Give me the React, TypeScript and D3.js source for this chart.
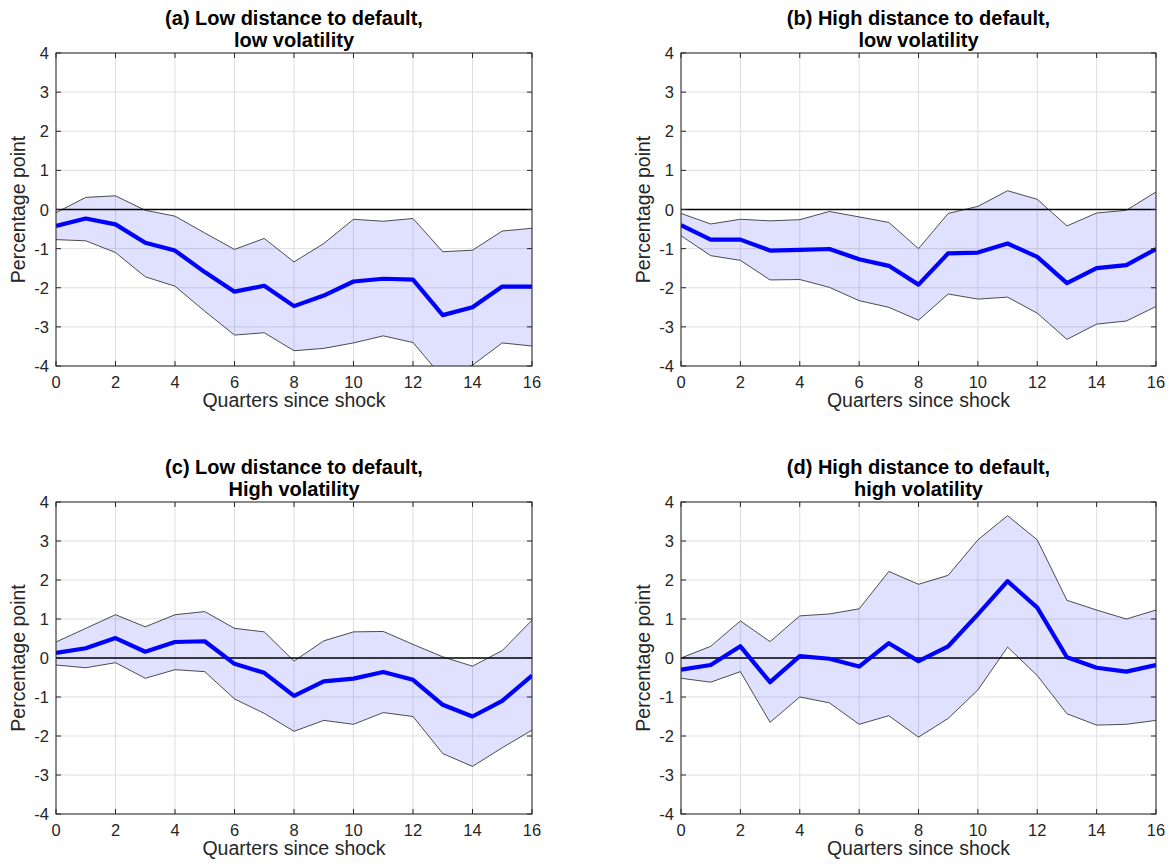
import React from "react";
import * as d3 from "d3";

// Horizon (quarters since shock) and axis ticks
const quarters = [0, 1, 2, 3, 4, 5, 6, 7, 8, 9, 10, 11, 12, 13, 14, 15, 16];
const xTicks = [0, 2, 4, 6, 8, 10, 12, 14, 16];
const yTicks = [-4, -3, -2, -1, 0, 1, 2, 3, 4];

// (a) Low distance to default, low volatility
const meanA = [-0.42, -0.23, -0.38, -0.85, -1.05, -1.6, -2.1, -1.95, -2.47, -2.2, -1.84, -1.77, -1.79, -2.7, -2.5, -1.97, -1.97];
const upperA = [-0.08, 0.31, 0.35, -0.02, -0.17, -0.6, -1.02, -0.74, -1.34, -0.87, -0.25, -0.3, -0.23, -1.08, -1.04, -0.55, -0.48];
const lowerA = [-0.77, -0.8, -1.1, -1.72, -1.96, -2.6, -3.21, -3.15, -3.61, -3.55, -3.41, -3.23, -3.4, -4.3, -3.98, -3.41, -3.49];

// (b) High distance to default, low volatility
const meanB = [-0.4, -0.77, -0.77, -1.05, -1.03, -1.01, -1.27, -1.44, -1.92, -1.12, -1.1, -0.87, -1.21, -1.88, -1.5, -1.42, -1.01];
const upperB = [-0.1, -0.37, -0.25, -0.29, -0.26, -0.05, -0.19, -0.33, -1.0, -0.1, 0.08, 0.48, 0.26, -0.42, -0.09, -0.02, 0.45];
const lowerB = [-0.67, -1.18, -1.3, -1.8, -1.79, -1.99, -2.33, -2.5, -2.83, -2.16, -2.29, -2.24, -2.65, -3.32, -2.93, -2.85, -2.48];

// (c) Low distance to default, high volatility
const meanC = [0.13, 0.25, 0.51, 0.16, 0.41, 0.43, -0.15, -0.38, -0.97, -0.6, -0.53, -0.36, -0.56, -1.2, -1.5, -1.1, -0.45];
const upperC = [0.41, 0.76, 1.11, 0.8, 1.11, 1.19, 0.76, 0.67, -0.08, 0.44, 0.67, 0.68, 0.35, 0.03, -0.21, 0.19, 0.97];
const lowerC = [-0.18, -0.25, -0.12, -0.52, -0.3, -0.35, -1.05, -1.42, -1.88, -1.6, -1.7, -1.4, -1.5, -2.45, -2.78, -2.3, -1.85];

// (d) High distance to default, high volatility
const meanD = [-0.3, -0.18, 0.3, -0.62, 0.05, -0.02, -0.22, 0.38, -0.08, 0.3, 1.12, 1.97, 1.29, 0.02, -0.25, -0.35, -0.18];
const upperD = [0.0, 0.3, 0.95, 0.42, 1.08, 1.13, 1.26, 2.22, 1.89, 2.12, 3.03, 3.65, 3.03, 1.48, 1.23, 1.0, 1.23];
const lowerD = [-0.52, -0.62, -0.35, -1.65, -1.0, -1.15, -1.7, -1.48, -2.03, -1.55, -0.82, 0.28, -0.45, -1.43, -1.72, -1.7, -1.6];

const titleA = ["(a) Low distance to default,", "low volatility"];
const titleB = ["(b) High distance to default,", "low volatility"];
const titleC = ["(c) Low distance to default,", "High volatility"];
const titleD = ["(d) High distance to default,", "high volatility"];

const FONT = "'Liberation Sans', Arial, Helvetica, sans-serif";
const AXIS_COLOR = "#262626";
const GRID_COLOR = "#dfdfdf";

type PanelProps = {
  id: string;
  left: number;
  top: number;
  width: number;
  height: number;
  title: string[];
  mean: number[];
  upper: number[];
  lower: number[];
};

function Panel({ id, left, top, width, height, title, mean, upper, lower }: PanelProps) {
  const x = d3.scaleLinear().domain([0, 16]).range([left, left + width]);
  const y = d3.scaleLinear().domain([-4, 4]).range([top + height, top]);

  const band = d3
    .area<number>()
    .x((q) => x(q))
    .y0((q, i) => y(lower[i]))
    .y1((q, i) => y(upper[i]));
  const line = d3
    .line<number>()
    .x((q) => x(q))
    .y((q, i) => y(mean[i]));
  const edgeUpper = d3
    .line<number>()
    .x((q) => x(q))
    .y((q, i) => y(upper[i]));
  const edgeLower = d3
    .line<number>()
    .x((q) => x(q))
    .y((q, i) => y(lower[i]));

  const tickLen = 5;
  const cx = left + width / 2;
  const bottom = top + height;
  const right = left + width;

  return (
    <g>
      <defs>
        <clipPath id={id}>
          <rect x={left} y={top} width={width} height={height} />
        </clipPath>
      </defs>
      <rect x={left} y={top} width={width} height={height} fill="#ffffff" />
      {/* grid */}
      {xTicks.map((t) => (
        <line key={"gx" + t} x1={x(t)} x2={x(t)} y1={top} y2={bottom} stroke={GRID_COLOR} strokeWidth={1} />
      ))}
      {yTicks.map((t) => (
        <line key={"gy" + t} x1={left} x2={right} y1={y(t)} y2={y(t)} stroke={GRID_COLOR} strokeWidth={1} />
      ))}
      <g clipPath={`url(#${id})`}>
        <path d={band(quarters) ?? ""} fill="rgb(0,0,255)" fillOpacity={0.12} stroke="none" />
        <path d={edgeUpper(quarters) ?? ""} fill="none" stroke="#222" strokeWidth={0.8} />
        <path d={edgeLower(quarters) ?? ""} fill="none" stroke="#222" strokeWidth={0.8} />
        <line x1={x(0)} x2={x(16)} y1={y(0)} y2={y(0)} stroke="#000" strokeWidth={1.6} />
        <path d={line(quarters) ?? ""} fill="none" stroke="#0000ff" strokeWidth={4.2} strokeLinejoin="round" />
      </g>
      {/* box and ticks */}
      <rect x={left} y={top} width={width} height={height} fill="none" stroke={AXIS_COLOR} strokeWidth={1} />
      {xTicks.map((t) => (
        <g key={"tx" + t}>
          <line x1={x(t)} x2={x(t)} y1={bottom} y2={bottom - tickLen} stroke={AXIS_COLOR} />
          <line x1={x(t)} x2={x(t)} y1={top} y2={top + tickLen} stroke={AXIS_COLOR} />
          <text x={x(t)} y={bottom + 22} textAnchor="middle" fontSize={16.5} fontFamily={FONT} fill="#262626">
            {t}
          </text>
        </g>
      ))}
      {yTicks.map((t) => (
        <g key={"ty" + t}>
          <line x1={left} x2={left + tickLen} y1={y(t)} y2={y(t)} stroke={AXIS_COLOR} />
          <line x1={right} x2={right - tickLen} y1={y(t)} y2={y(t)} stroke={AXIS_COLOR} />
          <text x={left - 7} y={y(t) + 6} textAnchor="end" fontSize={16.5} fontFamily={FONT} fill="#262626">
            {t}
          </text>
        </g>
      ))}
      {/* labels */}
      <text x={cx} y={bottom + 41} textAnchor="middle" fontSize={19.5} fontFamily={FONT} fill="#262626">
        Quarters since shock
      </text>
      <text
        transform={`translate(${left - 31},${top + height / 2}) rotate(-90)`}
        textAnchor="middle"
        fontSize={19.5}
        fontFamily={FONT}
        fill="#262626"
      >
        Percentage point
      </text>
      <text x={cx} y={top - 28} textAnchor="middle" fontSize={20} fontWeight="bold" fontFamily={FONT} fill="#000">
        {title[0]}
      </text>
      <text x={cx} y={top - 6} textAnchor="middle" fontSize={20} fontWeight="bold" fontFamily={FONT} fill="#000">
        {title[1]}
      </text>
    </g>
  );
}

export default function App() {
  return (
    <svg
      width={1174}
      height={866}
      style={{ position: "absolute", left: 0, top: 0, background: "#fff" }}
    >
      <rect width={1174} height={866} fill="#fff" />
      <Panel id="clipA" left={56} top={53} width={476} height={313} title={titleA} mean={meanA} upper={upperA} lower={lowerA} />
      <Panel id="clipB" left={681} top={53} width={475} height={313} title={titleB} mean={meanB} upper={upperB} lower={lowerB} />
      <Panel id="clipC" left={56} top={502} width={476} height={312} title={titleC} mean={meanC} upper={upperC} lower={lowerC} />
      <Panel id="clipD" left={681} top={502} width={475} height={312} title={titleD} mean={meanD} upper={upperD} lower={lowerD} />
    </svg>
  );
}
